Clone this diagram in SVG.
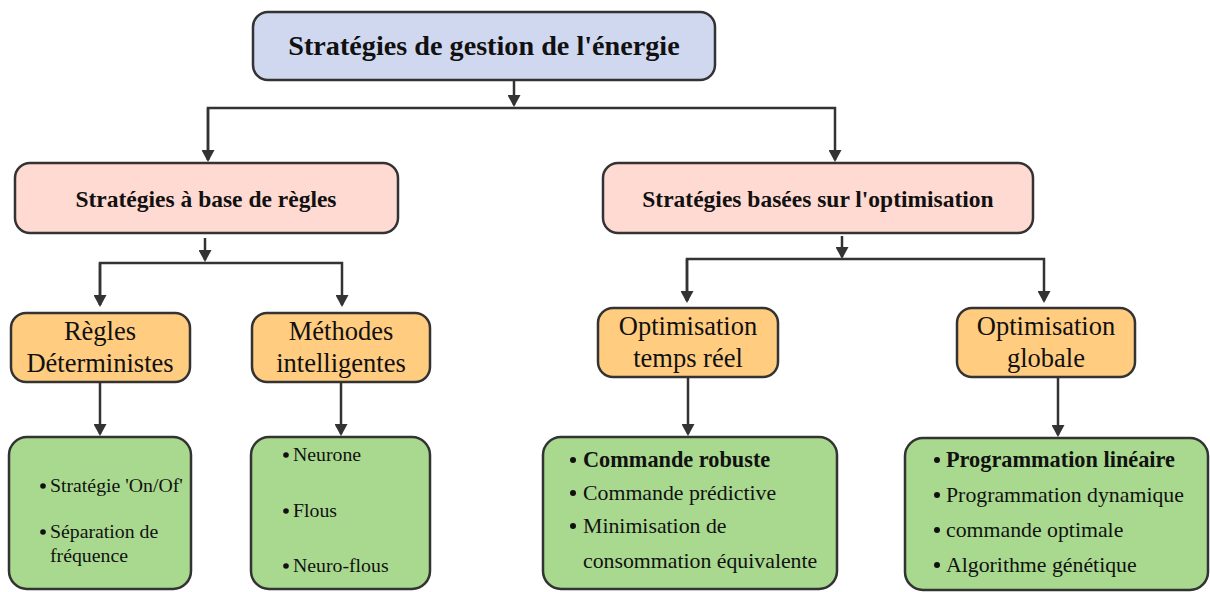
<svg xmlns="http://www.w3.org/2000/svg" width="1210" height="592" viewBox="0 0 1210 592">
<style>
.box{stroke:#333;stroke-width:2.5}
.top{fill:#d0d8f0}
.pink{fill:#ffdad2}
.orange{fill:#ffcc80}
.green{fill:#a9d98f}
text{font-family:'Liberation Serif',Tinos,'Times New Roman',Times,'DejaVu Serif',serif;fill:#111}
.t1{font-size:28.2px;font-weight:bold;text-anchor:middle}
.t2{font-size:23.5px;font-weight:bold;text-anchor:middle}
.t3{font-size:26.5px;text-anchor:middle}
.t4{font-size:19.8px}
.t5{font-size:21.8px}
.b{font-weight:bold;font-size:22.3px}
.conn{fill:none;stroke:#333;stroke-width:2.5}
.dot{fill:#111}
</style>
<defs>
<marker id="ah" markerWidth="13" markerHeight="13" refX="10" refY="6.5" orient="auto" markerUnits="userSpaceOnUse">
<path d="M0,0 L12,6.5 L0,13 Z" fill="#333"/>
</marker>
</defs>
<g id="connectors">
<path class="conn" d="M514,80 V105" marker-end="url(#ah)"/>
<path class="conn" d="M208,160 V108 H835 V160" marker-end="url(#ah)"/>
<path class="conn" d="M208,108 V160" marker-end="url(#ah)"/>
<path class="conn" d="M205,238 V260" marker-end="url(#ah)"/>
<path class="conn" d="M100,305 V263 H342 V305" marker-end="url(#ah)"/>
<path class="conn" d="M100,263 V305" marker-end="url(#ah)"/>
<path class="conn" d="M842,236 V257" marker-end="url(#ah)"/>
<path class="conn" d="M687,301 V259 H1044 V301" marker-end="url(#ah)"/>
<path class="conn" d="M687,259 V301" marker-end="url(#ah)"/>
<path class="conn" d="M100,382 V434" marker-end="url(#ah)"/>
<path class="conn" d="M341,382 V434" marker-end="url(#ah)"/>
<path class="conn" d="M688,377 V434" marker-end="url(#ah)"/>
<path class="conn" d="M1058,377 V435" marker-end="url(#ah)"/>
</g>
<g id="root">
<rect class="box top" x="253" y="12" width="462" height="68" rx="15"/>
<text class="t1" x="484" y="55">Stratégies de gestion de l'énergie</text>
</g>
<g id="regles">
<rect class="box pink" x="15" y="163" width="383" height="70" rx="15"/>
<text class="t2" x="206" y="207">Stratégies à base de règles</text>
</g>
<g id="optim">
<rect class="box pink" x="603" y="163" width="430" height="70" rx="15"/>
<text class="t2" x="818" y="207">Stratégies basées sur l'optimisation</text>
</g>
<g id="deterministes">
<rect class="box orange" x="11" y="313" width="179" height="69" rx="15"/>
<text class="t3" x="100" y="340">Règles</text>
<text class="t3" x="100" y="372">Déterministes</text>
</g>
<g id="intelligentes">
<rect class="box orange" x="252" y="313" width="178" height="69" rx="15"/>
<text class="t3" x="341" y="340">Méthodes</text>
<text class="t3" x="341" y="372">intelligentes</text>
</g>
<g id="tempsreel">
<rect class="box orange" x="598" y="308" width="180" height="69" rx="15"/>
<text class="t3" x="688" y="335">Optimisation</text>
<text class="t3" x="688" y="367">temps réel</text>
</g>
<g id="globale">
<rect class="box orange" x="957" y="308" width="178" height="69" rx="15"/>
<text class="t3" x="1046" y="335">Optimisation</text>
<text class="t3" x="1046" y="367">globale</text>
</g>
<g id="list1">
<rect class="box green" x="9" y="437" width="182" height="152" rx="18"/>
<circle class="dot" cx="43" cy="486" r="2.8"/>
<text class="t4" x="50" y="492">Stratégie 'On/Of'</text>
<circle class="dot" cx="43" cy="532" r="2.8"/>
<text class="t4" x="50" y="538">Séparation de</text>
<text class="t4" x="50" y="562">fréquence</text>
</g>
<g id="list2">
<rect class="box green" x="251" y="437" width="179" height="152" rx="18"/>
<circle class="dot" cx="286" cy="455" r="2.8"/>
<text class="t4" x="293" y="461">Neurone</text>
<circle class="dot" cx="286" cy="511" r="2.8"/>
<text class="t4" x="293" y="517">Flous</text>
<circle class="dot" cx="286" cy="566" r="2.8"/>
<text class="t4" x="293" y="572">Neuro-flous</text>
</g>
<g id="list3">
<rect class="box green" x="543" y="437" width="294" height="152" rx="18"/>
<circle class="dot" cx="573" cy="460" r="3"/>
<text class="t5 b" x="583" y="467">Commande robuste</text>
<circle class="dot" cx="573" cy="493" r="3"/>
<text class="t5" x="583" y="500">Commande prédictive</text>
<circle class="dot" cx="573" cy="526" r="3"/>
<text class="t5" x="583" y="533">Minimisation de</text>
<text class="t5" x="583" y="568">consommation équivalente</text>
</g>
<g id="list4">
<rect class="box green" x="905" y="438" width="303" height="152" rx="18"/>
<circle class="dot" cx="937" cy="460" r="3"/>
<text class="t5 b" x="946" y="467">Programmation linéaire</text>
<circle class="dot" cx="937" cy="495" r="3"/>
<text class="t5" x="946" y="502">Programmation dynamique</text>
<circle class="dot" cx="937" cy="530" r="3"/>
<text class="t5" x="946" y="537">commande optimale</text>
<circle class="dot" cx="937" cy="565" r="3"/>
<text class="t5" x="946" y="572">Algorithme génétique</text>
</g>
</svg>
